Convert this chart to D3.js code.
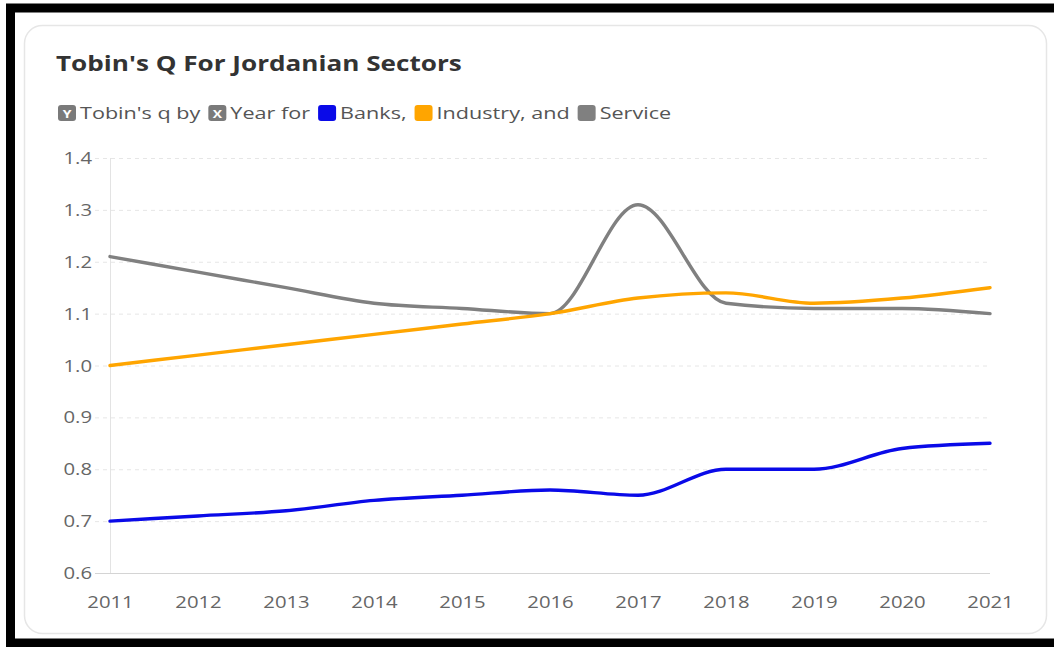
<!DOCTYPE html>
<html>
<head>
<meta charset="utf-8">
<script src="https://cdn.jsdelivr.net/npm/d3@7"></script>
<style>
  html, body { margin: 0; padding: 0; background: #fff; }
  svg { display: block; }
</style>
</head>
<body>
<svg id="chart" width="1054" height="647"></svg>
<script>
const years = [2011, 2012, 2013, 2014, 2015, 2016, 2017, 2018, 2019, 2020, 2021];
const banks = [0.70, 0.71, 0.72, 0.74, 0.75, 0.76, 0.75, 0.80, 0.80, 0.84, 0.85];
const industry = [1.00, 1.02, 1.04, 1.06, 1.08, 1.10, 1.13, 1.14, 1.12, 1.13, 1.15];
const service = [1.21, 1.18, 1.15, 1.12, 1.11, 1.10, 1.31, 1.12, 1.11, 1.11, 1.10];
const yTicks = [0.6, 0.7, 0.8, 0.9, 1.0, 1.1, 1.2, 1.3, 1.4];
const seriesNames = ["Banks", "Industry", "Service"];
const seriesColors = ["#0a0ae8", "#ffa500", "#808080"];
const titleText = "Tobin's Q For Jordanian Sectors";

const svg = d3.select("#chart");
const font = "'Open Sans', 'Noto Sans', sans-serif";
const SX = 1.27; // horizontal stretch of the reference text
const LSX = 1.31;

// outer black frame
svg.append("rect").attr("x", 10.5).attr("y", 8).attr("width", 1060).attr("height", 635)
  .attr("fill", "none").attr("stroke", "#000").attr("stroke-width", 9);
// card
svg.append("rect").attr("x", 24.5).attr("y", 25.5).attr("width", 1022).attr("height", 608)
  .attr("rx", 18).attr("fill", "#fff").attr("stroke", "#e6e6e6").attr("stroke-width", 1.5);

// title
const title = svg.append("text").attr("transform", "translate(56,71)").text(titleText)
  .attr("font-family", font).attr("font-weight", 700).attr("font-size", 20.5).attr("fill", "#333");
{
  const w = title.node().getComputedTextLength();
  title.attr("transform", `translate(56,71) scale(${406 / w},1)`);
}

// legend line
const lg = svg.append("g").attr("font-family", font).attr("font-size", 16.5).attr("fill", "#555");
let lx = 58; const ly = 119;
function box(color, letter) {
  lg.append("rect").attr("x", lx).attr("y", ly - 14).attr("width", 18).attr("height", 16).attr("rx", 3).attr("fill", color);
  if (letter) lg.append("text").attr("transform", `translate(${lx + 9},${ly - 1}) scale(${SX},1)`).attr("text-anchor", "middle")
    .attr("font-size", 11).attr("font-weight", 700).attr("fill", "#fff").text(letter);
  lx += 22;
}
function txt(s) {
  const t = lg.append("text").attr("transform", `translate(${lx},${ly}) scale(${LSX},1)`).text(s);
  lx += t.node().getComputedTextLength() * LSX + 8;
}
box("#7a7a7a", "Y"); txt("Tobin's q by");
box("#7a7a7a", "X"); txt("Year for");
box(seriesColors[0]); txt(seriesNames[0] + ",");
box(seriesColors[1]); txt(seriesNames[1] + ", and");
box(seriesColors[2]); txt(seriesNames[2]);

// scales
const x = d3.scaleLinear().domain([years[0], years[years.length - 1]]).range([110, 990]);
const y = d3.scaleLinear().domain([0.6, 1.4]).range([573, 158]);

// gridlines
const grid = svg.append("g");
grid.selectAll("line").data(yTicks).join("line")
  .attr("x1", 95).attr("x2", 990)
  .attr("y1", d => y(d) + 0.5).attr("y2", d => y(d) + 0.5)
  .attr("stroke", d => d === 0.6 ? "#d4d4d4" : "#e6e6e6")
  .attr("stroke-dasharray", d => d === 0.6 ? null : "4,4");
svg.append("line").attr("x1", 110.5).attr("x2", 110.5).attr("y1", 158).attr("y2", 573)
  .attr("stroke", "#e3e3e3");

// y axis labels
const yAxis = d3.axisLeft(y).tickValues(yTicks).tickFormat(d3.format(".1f")).tickSize(0).tickPadding(0);
const ya = svg.append("g").attr("transform", "translate(92,0)").call(yAxis);
ya.select(".domain").remove();
ya.selectAll("text").attr("x", null).attr("dy", null).attr("y", null)
  .attr("transform", `translate(0,5.5) scale(${SX},1)`)
  .attr("font-family", font).attr("font-size", 16).attr("fill", "#666");

// x axis labels
const xAxis = d3.axisBottom(x).tickValues(years).tickFormat(d3.format("d")).tickSize(0).tickPadding(0);
const xa = svg.append("g").attr("transform", "translate(0,602)").call(xAxis);
xa.select(".domain").remove();
xa.selectAll("text").attr("y", null).attr("dy", null)
  .attr("transform", `translate(0,5.5) scale(${SX},1)`)
  .attr("font-family", font).attr("font-size", 16).attr("fill", "#666");

// lines
const line = d3.line().x((d, i) => x(years[i])).y(d => y(d)).curve(d3.curveMonotoneX);
const data = [service, industry, banks];
const cols = [seriesColors[2], seriesColors[1], seriesColors[0]];
svg.append("g").selectAll("path").data(data).join("path")
  .attr("d", line).attr("fill", "none")
  .attr("stroke", (d, i) => cols[i]).attr("stroke-width", 3.4)
  .attr("stroke-linejoin", "round").attr("stroke-linecap", "round");
</script>
</body>
</html>
